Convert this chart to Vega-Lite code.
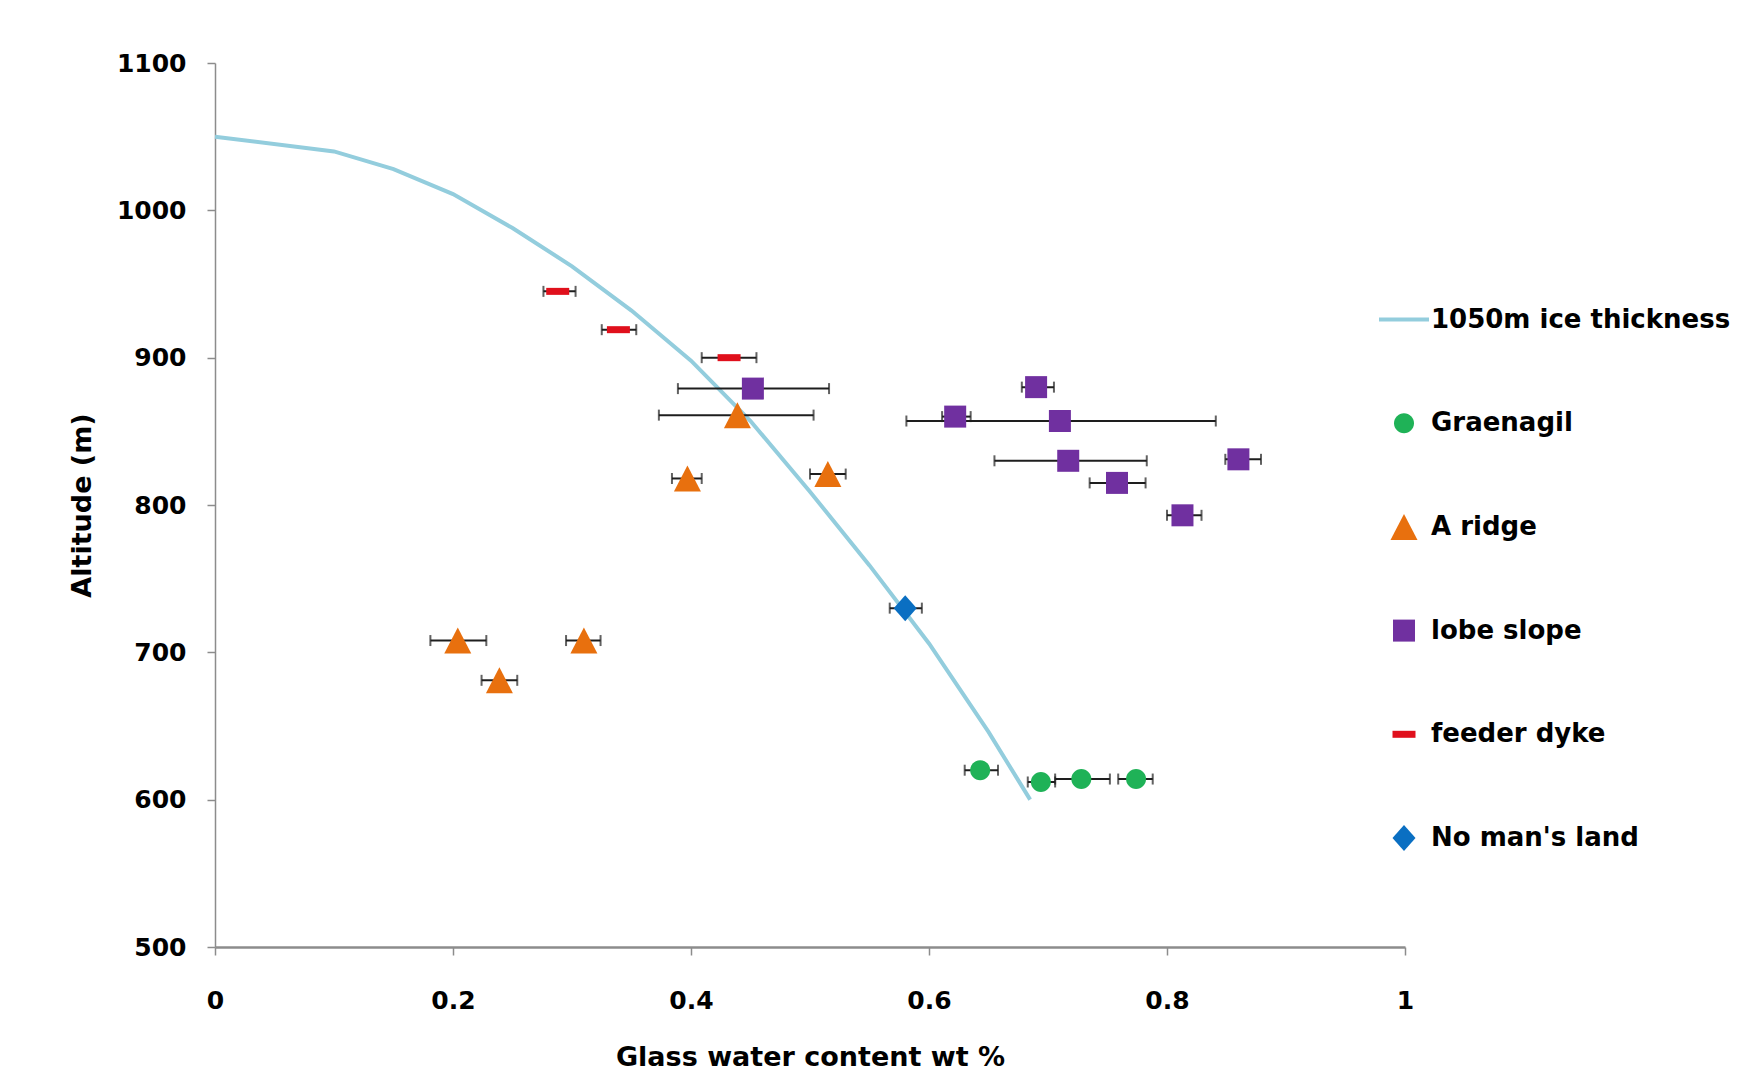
{
  "$schema": "https://vega.github.io/schema/vega-lite/v6.json",
  "width": 1190,
  "height": 884,
  "autosize": "none",
  "padding": {"left": 215, "top": 63, "right": 332, "bottom": 135},
  "background": "white",
  "datasets": {
    "curve": [
      {"wt": 0.0, "alt": 1050},
      {"wt": 0.1, "alt": 1040},
      {"wt": 0.15, "alt": 1028},
      {"wt": 0.2, "alt": 1011},
      {"wt": 0.25, "alt": 988},
      {"wt": 0.3, "alt": 962},
      {"wt": 0.35, "alt": 932},
      {"wt": 0.4, "alt": 898},
      {"wt": 0.45, "alt": 857},
      {"wt": 0.5, "alt": 809},
      {"wt": 0.55, "alt": 759},
      {"wt": 0.6, "alt": 706},
      {"wt": 0.65, "alt": 646},
      {"wt": 0.685, "alt": 600}
    ],
    "pts": [
      {"series": "Graenagil", "wt": 0.643, "alt": 620, "lo": 0.630, "hi": 0.658},
      {"series": "Graenagil", "wt": 0.694, "alt": 612, "lo": 0.683, "hi": 0.706},
      {"series": "Graenagil", "wt": 0.728, "alt": 614, "lo": 0.706, "hi": 0.752},
      {"series": "Graenagil", "wt": 0.774, "alt": 614, "lo": 0.759, "hi": 0.788},
      {"series": "A ridge", "wt": 0.439, "alt": 861, "lo": 0.373, "hi": 0.503},
      {"series": "A ridge", "wt": 0.397, "alt": 818, "lo": 0.384, "hi": 0.409},
      {"series": "A ridge", "wt": 0.515, "alt": 821, "lo": 0.500, "hi": 0.530},
      {"series": "A ridge", "wt": 0.204, "alt": 708, "lo": 0.181, "hi": 0.228},
      {"series": "A ridge", "wt": 0.310, "alt": 708, "lo": 0.295, "hi": 0.324},
      {"series": "A ridge", "wt": 0.239, "alt": 681, "lo": 0.224, "hi": 0.254},
      {"series": "lobe slope", "wt": 0.452, "alt": 879, "lo": 0.389, "hi": 0.516},
      {"series": "lobe slope", "wt": 0.690, "alt": 880, "lo": 0.678, "hi": 0.705},
      {"series": "lobe slope", "wt": 0.622, "alt": 860, "lo": 0.611, "hi": 0.635},
      {"series": "lobe slope", "wt": 0.710, "alt": 857, "lo": 0.581, "hi": 0.841},
      {"series": "lobe slope", "wt": 0.717, "alt": 830, "lo": 0.655, "hi": 0.783},
      {"series": "lobe slope", "wt": 0.860, "alt": 831, "lo": 0.849, "hi": 0.879},
      {"series": "lobe slope", "wt": 0.758, "alt": 815, "lo": 0.735, "hi": 0.782},
      {"series": "lobe slope", "wt": 0.813, "alt": 793, "lo": 0.800, "hi": 0.829},
      {"series": "feeder dyke", "wt": 0.288, "alt": 945, "lo": 0.276, "hi": 0.303},
      {"series": "feeder dyke", "wt": 0.339, "alt": 919, "lo": 0.325, "hi": 0.354},
      {"series": "feeder dyke", "wt": 0.432, "alt": 900, "lo": 0.409, "hi": 0.455},
      {"series": "No man's land", "wt": 0.580, "alt": 730, "lo": 0.567, "hi": 0.594}
    ]
  },
  "layer": [
    {
      "data": {"name": "curve"},
      "mark": {"type": "line", "color": "#93cddd", "strokeWidth": 4},
      "encoding": {
        "x": {"field": "wt", "type": "quantitative", "title": "Glass water content wt %", "scale": {"domain": [0, 1], "nice": false, "zero": false}},
        "y": {"field": "alt", "type": "quantitative", "title": "Altitude (m)", "scale": {"domain": [500, 1100], "nice": false, "zero": false}}
      }
    },
    {
      "data": {"name": "pts"},
      "mark": {"type": "rule", "color": "#1e1e1e", "strokeWidth": 2},
      "encoding": {
        "x": {"field": "lo", "type": "quantitative", "title": "Glass water content wt %"},
        "x2": {"field": "hi"},
        "y": {"field": "alt", "type": "quantitative", "title": "Altitude (m)"}
      }
    },
    {
      "data": {"name": "pts"},
      "mark": {"type": "tick", "orient": "vertical", "color": "#1e1e1e", "size": 11, "thickness": 2},
      "encoding": {
        "x": {"field": "lo", "type": "quantitative", "title": "Glass water content wt %"},
        "y": {"field": "alt", "type": "quantitative", "title": "Altitude (m)"}
      }
    },
    {
      "data": {"name": "pts"},
      "mark": {"type": "tick", "orient": "vertical", "color": "#1e1e1e", "size": 11, "thickness": 2},
      "encoding": {
        "x": {"field": "hi", "type": "quantitative", "title": "Glass water content wt %"},
        "y": {"field": "alt", "type": "quantitative", "title": "Altitude (m)"}
      }
    },
    {
      "data": {"name": "pts"},
      "mark": {"type": "point", "filled": true, "opacity": 1, "size": 400, "strokeWidth": 0},
      "encoding": {
        "x": {"field": "wt", "type": "quantitative", "title": "Glass water content wt %",
              "axis": {"values": [0, 0.2, 0.4, 0.6, 0.8, 1], "format": "~g", "labelFlush": false}},
        "y": {"field": "alt", "type": "quantitative", "title": "Altitude (m)",
              "axis": {"values": [500, 600, 700, 800, 900, 1000, 1100], "format": "d", "labelFlush": false}},
        "color": {
          "field": "series", "type": "nominal", "title": null,
          "scale": {
            "domain": ["1050m ice thickness", "Graenagil", "A ridge", "lobe slope", "feeder dyke", "No man's land"],
            "range": ["#93cddd", "#1fb257", "#e8700e", "#7030a0", "#e0101c", "#0a6fc2"]
          }
        },
        "shape": {
          "field": "series", "type": "nominal", "title": null,
          "scale": {
            "domain": ["1050m ice thickness", "Graenagil", "A ridge", "lobe slope", "feeder dyke", "No man's land"],
            "range": [
              "M-2.5,-0.2H2.5V0.2H-2.5Z",
              "M1,0A1,1,0,1,1,-1,0A1,1,0,1,1,1,0Z",
              "M0,-1.3L1.35,1.3L-1.35,1.3Z",
              "M-1.1,-1.1H1.1V1.1H-1.1Z",
              "M-1.15,-0.35H1.15V0.35H-1.15Z",
              "M0,-1.3L1.15,0L0,1.3L-1.15,0Z"
            ]
          }
        }
      }
    }
  ],
  "config": {
    "view": {"stroke": null},
    "axis": {
      "grid": false,
      "domainColor": "#8c8c8c",
      "tickColor": "#8c8c8c",
      "tickSize": 8,
      "tickWidth": 1.5,
      "labelFont": "DejaVu Sans",
      "labelFontWeight": "bold",
      "labelFontSize": 25,
      "labelColor": "#000000",
      "titleFont": "DejaVu Sans",
      "titleFontWeight": "bold",
      "titleFontSize": 27,
      "titleColor": "#000000"
    },
    "axisX": {"domainWidth": 2.5, "labelPadding": 33, "titlePadding": 31},
    "axisY": {"domainWidth": 1.5, "labelPadding": 21, "titlePadding": 20},
    "legend": {
      "orient": "none",
      "legendX": 1176,
      "legendY": 243.5,
      "padding": 0,
      "symbolSize": 400,
      "symbolStrokeWidth": 0,
      "symbolOpacity": 1,
      "symbolOffset": 0,
      "labelFont": "DejaVu Sans",
      "labelFontWeight": "bold",
      "labelFontSize": 26,
      "labelColor": "#000000",
      "labelOffset": 14,
      "labelLimit": 0,
      "rowPadding": 77.7
    }
  }
}
